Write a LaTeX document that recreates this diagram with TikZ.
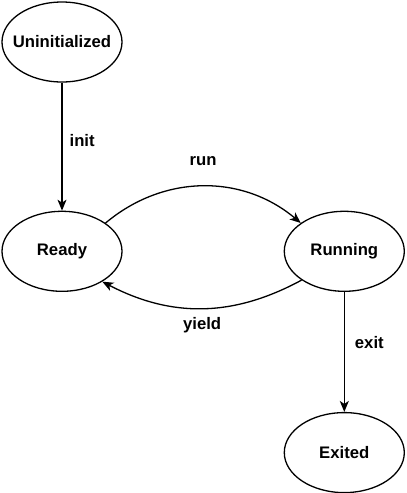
\documentclass[tikz,border=0pt]{standalone}
\usepackage{fontspec}
\setmainfont{Liberation Sans}
\usepackage{tikz}
\usetikzlibrary{shapes,positioning,arrows.meta}
\tikzset{
  fsm state/.style={ellipse, draw, line width=1.3pt, minimum width=120pt, minimum height=80pt, inner sep=0pt, align=center, font=\bfseries\fontsize{16.7}{20}\selectfont},
  fsm edge/.style={line width=1.3pt, -{Stealth[length=11pt, width=9pt, inset=3pt]}},
  fsm label/.style={inner sep=0pt, font=\bfseries\fontsize{16.7}{20}\selectfont}
}
\begin{document}
\begin{tikzpicture}
    \useasboundingbox (0pt,0pt) rectangle (407pt,-493pt);

    % States
    \node [fsm state, inner xsep=-14pt] (Uninit) at (62pt,-42pt) {Uninitialized};
    \node [fsm state, below=128pt of Uninit] (Ready) {Ready};
    \node [fsm state, right=161pt of Ready] (Running) {Running};
    \node [fsm state, below=120pt of Running] (Exited) {Exited};

    % Transitions
    \draw [fsm edge] (Uninit) -- node [fsm label, pos=0.45, right=7pt] (lblInit) {init} (Ready);
    \draw [fsm edge] (Ready.33) to [bend left=40] node [fsm label, midway, above=20pt] (lblRun) {run} (Running.147);
    \draw [fsm edge] (Running.214) to [bend left=28] node [fsm label, midway, below=8pt] (lblYield) {yield} (Ready.-37);
    \draw [fsm edge] (Running) -- node [fsm label, pos=0.42, right=10pt] (lblExit) {exit} (Exited);
\end{tikzpicture}
\end{document}
